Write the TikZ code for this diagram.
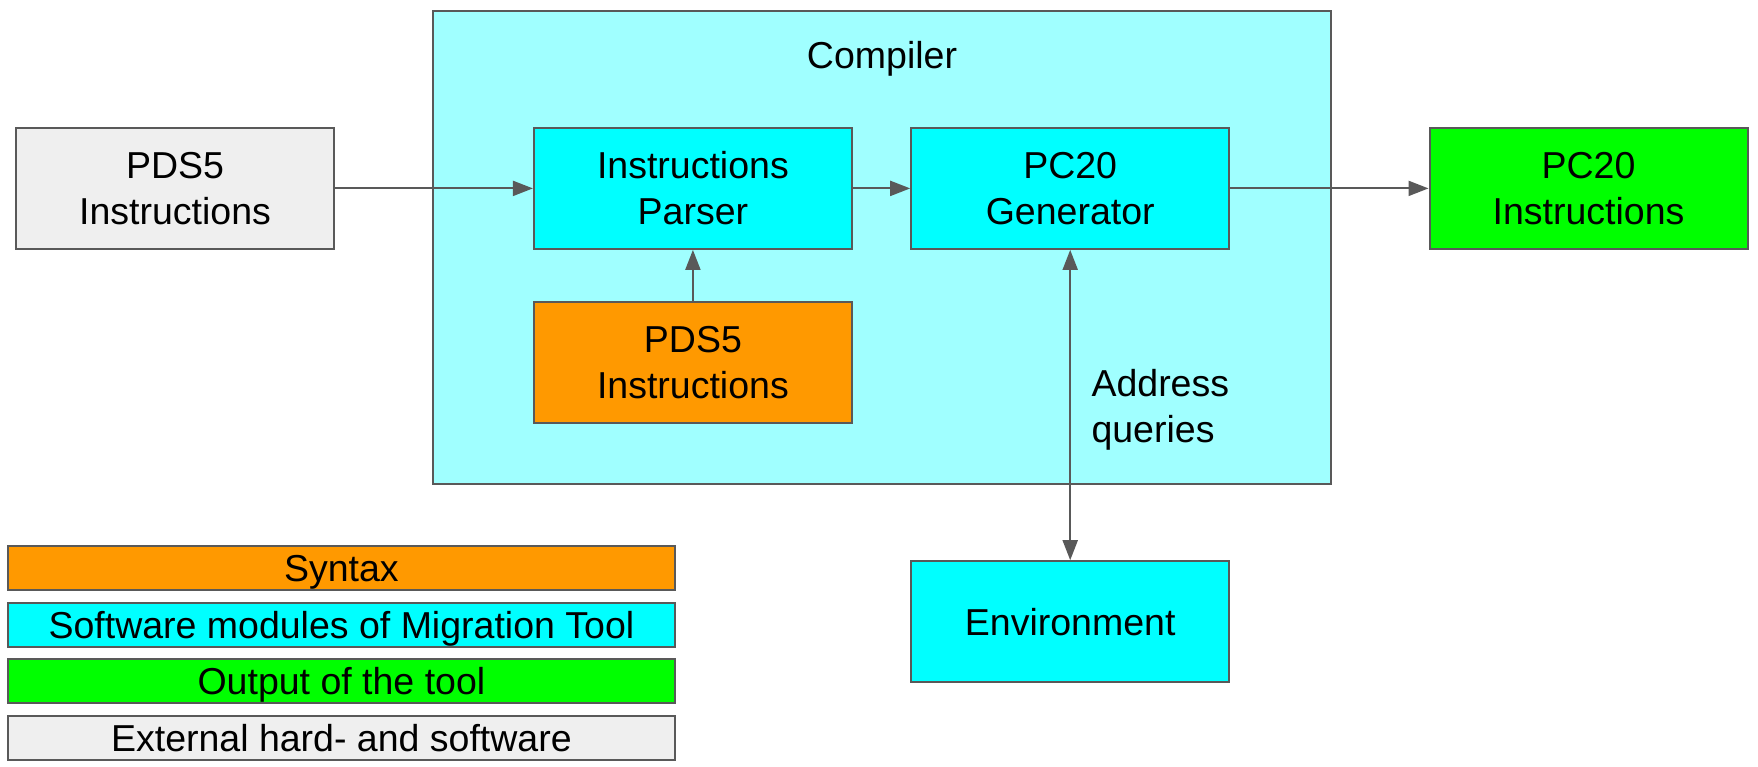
\documentclass[tikz,border=0pt]{standalone}
\usepackage{fontspec}
\setmainfont{Liberation Sans}
\usepackage{xcolor}
\usetikzlibrary{arrows.meta}

\definecolor{lcyan}{HTML}{A0FFFF}
\definecolor{mcyan}{HTML}{00FFFF}
\definecolor{morange}{HTML}{FF9900}
\definecolor{mgreen}{HTML}{00FF00}
\definecolor{mgray}{HTML}{EFEFEF}
\definecolor{edge}{HTML}{595959}

\begin{document}
\begin{tikzpicture}[x=1pt,y=-1pt,
	every node/.style={font=\fontsize{37.5}{46}\selectfont, align=center},
	block/.style={draw=edge, line width=2pt, minimum width=318pt, minimum height=121pt, inner sep=0pt},
	legend/.style={draw=edge, line width=2pt, minimum width=667pt, minimum height=44pt, inner sep=0pt, text height=27pt, text depth=0pt},
	conn/.style={draw=edge, line width=2pt, -{Triangle[length=20pt,width=15pt]}}]
				\useasboundingbox (0,0) rectangle (1758,767);
				%compiler frame first so that it lies behind
				\node[draw=edge, line width=2pt, fill=lcyan, minimum width=898pt, minimum height=473pt] (comp) at (881.9, 247.8){};
				\node (comptxt) at (882, 59){Compiler};

				%top row
				\node[block, fill=mgray] (pdsin) at (175, 188.4){PDS5\\Instructions};
				\node[block, fill=mcyan] (parser) at (692.9, 188.4){Instructions\\Parser};
				\node[block, fill=mcyan] (gen) at (1070.2, 188.4){PC20\\Generator};
				\node[block, fill=mgreen] (pcout) at (1588.5, 188.4){PC20\\Instructions};

				%lower blocks
				\node[block, fill=morange] (syn) at (692.9, 362.7){PDS5\\Instructions};
				\node[block, fill=mcyan] (env) at (1070.2, 621.7){Environment};
				\node[anchor=west, align=left] (addr) at (1088, 410){Address\\queries};

				%% legend drawn with a loop
				\foreach \i/\c/\t in {0/morange/Syntax, 1/mcyan/Software modules of Migration Tool, 2/mgreen/Output of the tool, 3/mgray/External hard- and software}{
					\node[legend, fill=\c] (leg\i) at (341.4, 568+56.5*\i){\t};
					}

				\draw[conn] (pdsin)--(parser);
				\draw[conn] (parser)--(gen);
				\draw[conn] (gen)--(pcout);
				\draw[conn] (syn)--(parser);
				\draw[conn, {Triangle[length=20pt,width=15pt]}-{Triangle[length=20pt,width=15pt]}] (gen)--(env);
\end{tikzpicture}
\end{document}
